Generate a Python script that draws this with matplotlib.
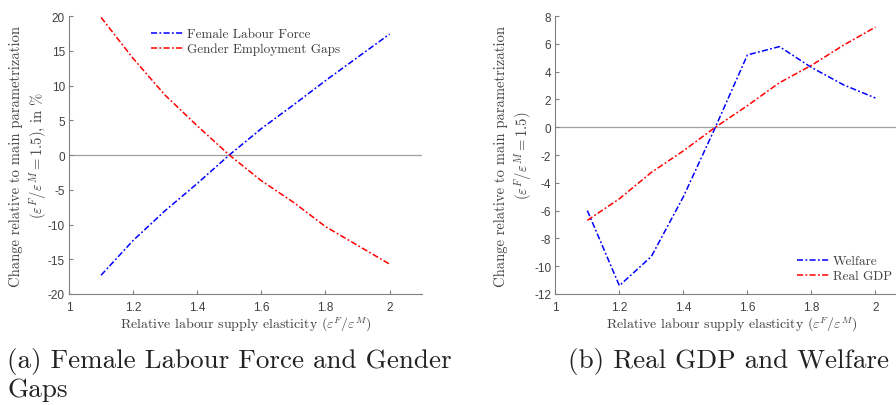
import matplotlib
matplotlib.use("Agg")
import matplotlib.pyplot as plt

plt.rcParams['mathtext.fontset'] = 'cm'
plt.rcParams['axes.unicode_minus'] = False

elast = [1.1, 1.2, 1.3, 1.4, 1.5, 1.6, 1.7, 1.8, 1.9, 2.0]
female_lf = [-17.3, -12.3, -8.0, -4.1, 0.0, 3.8, 7.2, 10.7, 14.05, 17.4]
gender_gap = [19.8, 13.9, 8.6, 4.2, 0.0, -3.7, -6.8, -10.3, -13.0, -15.7]
welfare = [-6.0, -11.4, -9.3, -5.0, 0.0, 5.2, 5.8, 4.3, 3.05, 2.1]
real_gdp = [-6.7, -5.15, -3.25, -1.7, 0.0, 1.55, 3.2, 4.45, 5.9, 7.2]

xticks = [1, 1.2, 1.4, 1.6, 1.8, 2]
xtick_labels = ["1", "1.2", "1.4", "1.6", "1.8", "2"]
yticks_a = [-20, -15, -10, -5, 0, 5, 10, 15, 20]
yticks_b = [-12, -10, -8, -6, -4, -2, 0, 2, 4, 6, 8]

serif = 'cmr10'
spine_col = '#808080'
tick_col = '#404040'
dashdot = (0, (4, 1.5, 1.2, 1.5))

fig = plt.figure(figsize=(8.96, 4.06), dpi=100)
ax1 = fig.add_axes([0.077, 0.2734, 0.3936, 0.6847])
ax2 = fig.add_axes([0.6198, 0.2734, 0.393, 0.6847])


def style_axes(ax, yticks):
    ax.set_xlim(1, 2.1)
    ax.set_ylim(yticks[0], yticks[-1])
    ax.axhline(0, color='#a0a0a0', lw=0.9, zorder=1)
    for s in ['top', 'right']:
        ax.spines[s].set_visible(False)
    for s in ['left', 'bottom']:
        ax.spines[s].set_color(spine_col)
        ax.spines[s].set_linewidth(0.8)
    ax.set_xticks(xticks)
    ax.set_xticklabels(xtick_labels)
    ax.set_yticks(yticks)
    ax.set_yticklabels([str(v) for v in yticks])
    ax.tick_params(direction='in', length=3, color=spine_col,
                   labelcolor=tick_col, labelsize=8.5, pad=3)
    ax.tick_params(axis='x', pad=5)
    for lab in ax.get_xticklabels() + ax.get_yticklabels():
        lab.set_family('Liberation Sans')
    ax.set_xlabel(r'Relative labour supply elasticity ($\varepsilon^F/\varepsilon^M$)',
                  family=serif, fontsize=10, color=tick_col, labelpad=1)


style_axes(ax1, yticks_a)
ax1.plot(elast, female_lf, color='blue', ls=dashdot, lw=1.1, label='Female Labour Force')
ax1.plot(elast, gender_gap, color='red', ls=dashdot, lw=1.1, label='Gender Employment Gaps')
ax1.set_ylabel('Change relative to main parametrization\n' +
               r'($\varepsilon^F/\varepsilon^M=1.5$), in %',
               family=serif, fontsize=10.5, color=tick_col, labelpad=-1, linespacing=1.25)
ax1.legend(loc='upper left', bbox_to_anchor=(0.2, 1.0), frameon=False,
           prop={'family': serif, 'size': 9.5}, labelcolor=tick_col,
           handlelength=2.4, handletextpad=0.3, labelspacing=0.2)

style_axes(ax2, yticks_b)
ax2.plot(elast, welfare, color='blue', ls=dashdot, lw=1.1, label='Welfare')
ax2.plot(elast, real_gdp, color='red', ls=dashdot, lw=1.1, label='Real GDP')
ax2.set_ylabel('Change relative to main parametrization\n' +
               r'($\varepsilon^F/\varepsilon^M=1.5$)',
               family=serif, fontsize=10.5, color=tick_col, labelpad=0, linespacing=1.25)
ax2.legend(loc='lower right', bbox_to_anchor=(0.99, 0.0), frameon=False,
           prop={'family': serif, 'size': 9.5}, labelcolor=tick_col,
           handlelength=2.4, handletextpad=0.3, labelspacing=0.2)

fig.text(0.008, 0.142, '(a) Female Labour Force and Gender\nGaps', family=serif,
         fontsize=19.5, color='#222222', ha='left', va='top', linespacing=1.15)
fig.text(0.634, 0.142, '(b) Real GDP and Welfare', family=serif,
         fontsize=19.5, color='#222222', ha='left', va='top')

fig.savefig('out.png', dpi=100)
